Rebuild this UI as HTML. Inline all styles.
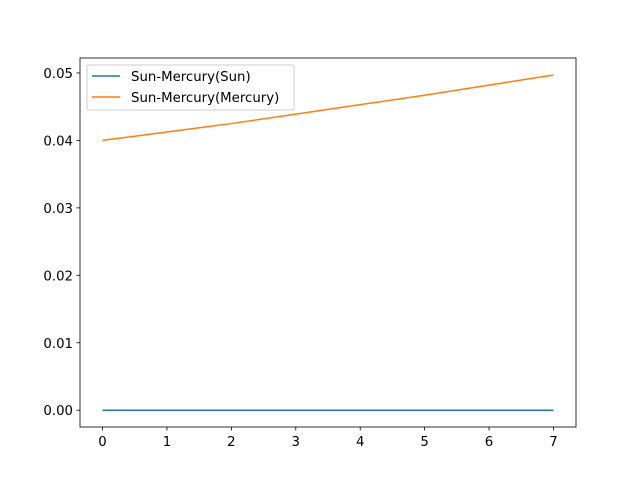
<!DOCTYPE html>
<html><head><meta charset="utf-8">
<style>
body{margin:0;background:#fff;}
svg{display:block;font-family:"DejaVu Sans","Liberation Sans",sans-serif;}
</style></head>
<body>
<svg id="chart" width="640" height="480" viewBox="0 0 640 480">
<rect x="0" y="0" width="640" height="480" fill="#fff"/>
<g id="plot"></g>
</svg>
<script>
const xs = [0,1,2,3,4,5,6,7];
const sunValues = [0,0,0,0,0,0,0,0];
const mercuryValues = [0.0400,0.04125,0.0425,0.0439,0.0453,0.0467,0.0482,0.0497];
const xTicks = [0,1,2,3,4,5,6,7];
const yTicks = [0.00,0.01,0.02,0.03,0.04,0.05];
const seriesNames = ["Sun-Mercury(Sun)","Sun-Mercury(Mercury)"];

const NS="http://www.w3.org/2000/svg";
const g=document.getElementById('plot');
const L=80,R=576,T=58,B=427;
const xMin=-0.35,xMax=7.35;
const yMin=-0.00249,yMax=0.05222;
const sx=v=>L+(v-xMin)/(xMax-xMin)*(R-L);
const sy=v=>B-(v-yMin)/(yMax-yMin)*(B-T);
function el(t,a){const e=document.createElementNS(NS,t);for(const k in a)e.setAttribute(k,a[k]);g.appendChild(e);return e;}

function line(vals,color,name){
  const e=el('polyline',{points:xs.map((x,i)=>sx(x)+','+sy(vals[i])).join(' '),fill:'none',stroke:color,'stroke-width':1.5});
  
  
}
line(sunValues,'#1f77b4','sun-series-line');
line(mercuryValues,'#ff7f0e','mercury-series-line');

const frame=el('rect',{x:L,y:T,width:R-L,height:B-T,fill:'none',stroke:'#000','stroke-width':0.8});



xTicks.forEach(v=>{
  const x=sx(v);
  const t=el('line',{x1:x,x2:x,y1:B,y2:B+3.5,stroke:'#000','stroke-width':0.8});
  
  
  const l=el('text',{x:x,y:B+19,'font-size':13.3,'text-anchor':'middle',fill:'#000'});
  l.textContent=v;
  
  
});
yTicks.forEach(v=>{
  const y=sy(v);
  const t=el('line',{x1:L-3.5,x2:L,y1:y,y2:y,stroke:'#000','stroke-width':0.8});
  
  
  const l=el('text',{x:L-7,y:y+5,'font-size':13.3,'text-anchor':'end',fill:'#000'});
  l.textContent=v.toFixed(2);
  
  
});

const lg=el('rect',{x:87,y:65,width:207,height:45,rx:2,fill:'#fff','fill-opacity':0.8,stroke:'#ccc','stroke-width':1});


['#1f77b4','#ff7f0e'].forEach((c,i)=>{
  const y=76+i*21;
  const s=el('line',{x1:92,x2:120,y1:y,y2:y,stroke:c,'stroke-width':1.5});
  
  
  const t=el('text',{x:131,y:y+5,'font-size':13.3,fill:'#000'});
  t.textContent=seriesNames[i];
  
  
});
</script>
</body></html>
